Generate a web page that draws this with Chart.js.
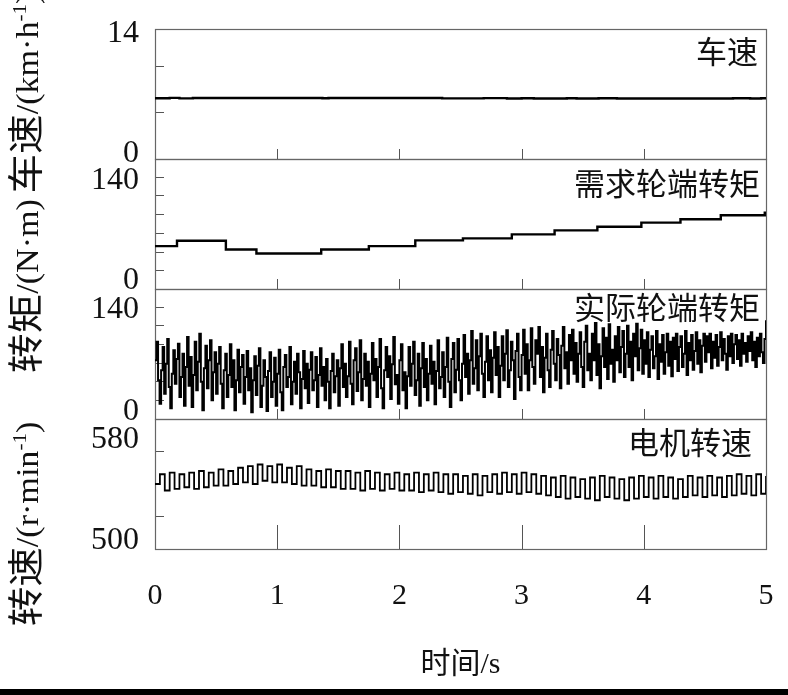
<!DOCTYPE html>
<html><head><meta charset="utf-8">
<script src="https://cdn.jsdelivr.net/npm/chart.js@4.4.1/dist/chart.umd.min.js"></script>
<style>html,body{margin:0;padding:0;background:#fff;overflow:hidden}#wrap{position:relative;width:788px;height:695px}</style>
</head><body><div id="wrap"><canvas id="c" width="788" height="695"></canvas></div>
<script>
// ---------- data ----------
const timeTicks = [0, 1, 2, 3, 4, 5];

// 车速 (km/h), stepped
const speedTimes  = [0, 0.12, 0.2, 0.31, 1.37, 1.42, 2.35, 2.69, 2.88, 3.0, 3.1, 3.37, 3.45, 3.63, 3.78, 4.73, 4.87, 4.96, 5.0];
const speedValues = [6.54, 6.58, 6.53, 6.57, 6.54, 6.57, 6.53, 6.56, 6.51, 6.55, 6.51, 6.55, 6.51, 6.55, 6.51, 6.55, 6.51, 6.55, 6.55];

// 需求轮端转矩 (N·m), stepped
const demandTimes  = [0, 0.18, 0.58, 0.83, 1.36, 1.75, 2.13, 2.52, 2.92, 3.27, 3.62, 3.98, 4.30, 4.63, 4.99, 5.0];
const demandValues = [37, 45, 32, 26, 32, 37, 45.5, 48.5, 54.5, 60.5, 66, 72, 77, 83, 87, 87];

// 实际轮端转矩 (N·m), sampled every 0.0125 s
const torqueSampleStep = 0.0125;
const actualTorque = [
  60, 88, 30, -5, 45, 80, 10, 55, 92, 20, -12, 40, 75, 25, 62, 85, 5, 35, 70, -8,
  50, 95, 22, 65, -10, 38, 88, 15, 58, 100, 28, -15, 48, 82, 18, 60, 90, 0, 42, 72,
  10, 55, 80, 25, -12, 45, 70, 5, 38, 84, 20, 60, -15, 30, 76, 12, 50, 68, -5, 35,
  74, 15, 48, -18, 30, 66, 8, 52, 78, -10, 22, 60, 35, -16, 44, 72, 5, 28, 64, -8,
  40, 76, 12, -15, 50, 68, 20, 35, 80, -6, 28, 58, 10, 70, 42, -12, 32, 74, 18, 55,
  -4, 46, 72, 15, 30, 65, -10, 38, 78, 22, 50, 0, 62, 28, -12, 44, 70, 12, 36, 60,
  -8, 48, 84, 20, 55, 5, 36, 88, 25, -6, 60, 78, 14, 42, 90, 0, 32, 70, 22, 58,
  -10, 40, 86, 30, 62, 5, 50, 92, 18, -12, 45, 80, 35, 66, 2, 54, 95, 24, 38, -5,
  60, 84, 15, 42, -12, 36, 80, 22, 55, 88, 8, 30, 70, -8, 48, 86, 20, 62, 0, 40,
  82, 25, 58, -6, 44, 90, 18, 35, 72, 5, 50, 94, 28, -10, 62, 86, 12, 46, 92, 30,
  0, 55, 98, 35, 70, 10, 60, 104, 25, 48, 90, 15, 66, 100, 40, 5, 58, 96, 30, 75,
  12, 64, 102, 38, 80, 5, 52, 96, 30, 70, 105, 20, 45, 88, 60, 2, 74, 100, 35, 15,
  68, 106, 40, 84, 15, 60, 108, 50, 25, 90, 70, 110, 35, 80, 12, 64, 100, 45, 20, 76,
  104, 55, 30, 92, 68, 18, 82, 110, 48, 72, 25, 98, 60, 106, 40, 86, 28, 70, 102, 50,
  20, 88, 112, 45, 70, 30, 100, 60, 116, 38, 84, 18, 66, 108, 50, 94, 32, 114, 55, 76,
  28, 96, 60, 110, 42, 80, 104, 35, 70, 112, 50, 88, 30, 100, 66, 115, 45, 78, 106, 40,
  90, 55, 102, 35, 76, 96, 48, 66, 104, 32, 84, 58, 98, 40, 72, 100, 52, 88, 36, 94,
  62, 100, 44, 80, 96, 50, 70, 104, 38, 86, 60, 98, 46, 74, 102, 55, 90, 42, 82, 100,
  58, 96, 72, 100, 48, 88, 64, 98, 52, 80, 102, 60, 92, 70, 46, 96, 66, 100, 56, 84,
  98, 62, 90, 52, 100, 70, 86, 58, 96, 74, 102, 60, 88, 50, 94, 66, 100, 72, 56, 92,
  120
];

// 电机转速 (r/min), sampled every 0.04 s
const motorSampleStep = 0.04;
const motorSpeed = [
  540, 546, 536, 547, 537, 546, 538, 547, 537, 548, 538, 547, 539,
  549, 539, 548, 540, 550, 541, 551, 540, 552, 542, 551, 541,
  552, 541, 550, 540, 551, 539, 549, 539, 548, 538, 549, 538, 548,
  537, 548, 537, 547, 536, 548, 537, 547, 536, 546, 537, 547, 536,
  546, 536, 547, 535, 546, 536, 547, 535, 546, 534, 546, 535,
  545, 534, 546, 533, 545, 535, 546, 534, 547, 535, 546, 534, 547,
  535, 546, 534, 545, 533, 544, 532, 545, 531, 544, 532, 543,
  531, 544, 530, 545, 532, 544, 531, 543, 530, 544, 531, 545, 532,
  544, 531, 545, 532, 544, 531, 543, 532, 545, 533, 544, 532,
  545, 533, 544, 532, 545, 533, 546, 534, 545, 533, 546, 534, 545
];

// axis tick values and labels
const speedTicks  = [0, 5, 10, 14];
const torqueTicks = [0, 28, 56, 84, 112, 140];
const motorTicks  = [500, 520, 560, 580];
const speedTickLabels  = [14, 0];
const torqueTickLabels = [140, 0];
const motorTickLabels  = [580, 500];
const panelTitles = ['车速', '需求轮端转矩', '实际轮端转矩', '电机转速'];
const xTitle = '时间/s';

// ---------- chart ----------
const SERIF = '"Liberation Serif", "Noto Sans CJK SC", serif';
const CJK = '"Noto Sans CJK SC", sans-serif';

function yScale(min, max, tickVals) {
  return {
    type: 'linear', position: 'left', stack: 'panels', stackWeight: 1,
    min: min, max: max,
    afterBuildTicks: s => { s.ticks = tickVals.map(v => ({ value: v })); },
    afterFit: s => { s.width = 155; s.paddingTop = 0; s.paddingBottom = 0; },
    ticks: { display: false },
    grid: { drawOnChartArea: false, drawTicks: true, tickLength: -9, color: '#555', lineWidth: 1 },
    border: { display: false }
  };
}

const panels = [
  { id: 'ySpeed',  labels: speedTickLabels,  dy: [2, -8],  title: panelTitles[0], tdy: 22,   tdx: -8,  tick: 10 },
  { id: 'yDemand', labels: torqueTickLabels, dy: [1, 8],   title: panelTitles[1], tdy: 24,   tdx: -6,  tick: 10 },
  { id: 'yActual', labels: torqueTickLabels, dy: [0, 9],   title: panelTitles[2], tdy: 18.5, tdx: -6,  tick: 10 },
  { id: 'yMotor',  labels: motorTickLabels,  dy: [18, -11],title: panelTitles[3], tdy: 23.5, tdx: -14, tick: 24 }
];

// rotated rich text: parts {t, cjk, sup}
function drawVertical(ctx, parts, cx, cy) {
  const latin = 31, cjk = 36, stretch = 1.1;
  const fontOf = p => p.cjk ? cjk + 'px ' + CJK : (p.sup ? latin * 0.62 : latin) + 'px ' + SERIF;
  ctx.save();
  ctx.translate(cx, cy);
  ctx.rotate(-Math.PI / 2);
  ctx.scale(stretch, 1);
  let total = 0;
  parts.forEach(p => { ctx.font = fontOf(p); p.w = ctx.measureText(p.t).width; total += p.w; });
  let x = -total / 2;
  const base = latin * 0.36;
  ctx.textAlign = 'left';
  ctx.textBaseline = 'alphabetic';
  ctx.fillStyle = '#111';
  parts.forEach(p => {
    ctx.font = fontOf(p);
    ctx.fillText(p.t, x, p.sup ? base - latin * 0.38 : (p.cjk ? base + 1 : base));
    x += p.w;
  });
  ctx.restore();
}

const decor = {
  id: 'decor',
  beforeDatasetsDraw(chart) {
    const ctx = chart.ctx, area = chart.chartArea, xs = chart.scales.x;
    ctx.save();
    panels.forEach(p => {
      const s = chart.scales[p.id];
      ctx.strokeStyle = '#666';
      ctx.lineWidth = 1.2;
      ctx.strokeRect(Math.round(area.left) + 0.5, Math.round(s.top) + 0.5, Math.round(area.right - area.left), Math.round(s.bottom - s.top));
      ctx.beginPath();
      timeTicks.slice(1, -1).forEach(t => {
        const px = Math.round(xs.getPixelForValue(t)) + 0.5;
        ctx.moveTo(px, s.bottom);
        ctx.lineTo(px, s.bottom - p.tick);
      });
      ctx.strokeStyle = '#555';
      ctx.lineWidth = 1;
      ctx.stroke();
    });
    ctx.restore();
  },
  afterDraw(chart) {
    const ctx = chart.ctx, area = chart.chartArea;
    ctx.save();
    ctx.fillStyle = '#111';
    ctx.textAlign = 'right';
    panels.forEach(p => {
      const s = chart.scales[p.id];
      // y tick labels
      ctx.font = '32px ' + SERIF;
      ctx.textBaseline = 'alphabetic';
      p.labels.forEach((v, i) => {
        const y = s.getPixelForValue(v) + p.dy[i] + 32 * 0.33;
        ctx.fillText(String(v), 139, y);
      });
      // panel titles
      ctx.font = '31px ' + CJK;
      ctx.textBaseline = 'middle';
      ctx.fillText(p.title, area.right + p.tdx, s.top + p.tdy);
    });
    // rotated axis titles
    drawVertical(ctx, [{ t: '车速', cjk: true }, { t: '/(km·h' }, { t: '-1', sup: true }, { t: ')' }], 27, 93);
    drawVertical(ctx, [{ t: '转矩', cjk: true }, { t: '/(N·m)' }], 27, 286);
    drawVertical(ctx, [{ t: '转速', cjk: true }, { t: '/(r·min' }, { t: '-1', sup: true }, { t: ')' }], 27, 524);
    // bottom rule
    ctx.fillStyle = '#000';
    ctx.fillRect(0, 689, 788, 6);
    ctx.restore();
  }
};

const lineStyle = { borderColor: '#000', pointRadius: 0, fill: false, xAxisID: 'x', stepped: 'before' };

new Chart(document.getElementById('c'), {
  type: 'line',
  data: {
    datasets: [
      Object.assign({ label: panelTitles[0], yAxisID: 'ySpeed', borderWidth: 2.4,
        data: speedTimes.map((t, i) => ({ x: t, y: speedValues[i] })) }, lineStyle),
      Object.assign({ label: panelTitles[1], yAxisID: 'yDemand', borderWidth: 2.4,
        data: demandTimes.map((t, i) => ({ x: t, y: demandValues[i] })) }, lineStyle),
      Object.assign({ label: panelTitles[2], yAxisID: 'yActual', borderWidth: 2,
        data: actualTorque.map((v, i) => ({ x: i * torqueSampleStep, y: v })) }, lineStyle),
      Object.assign({ label: panelTitles[3], yAxisID: 'yMotor', borderWidth: 1.8,
        data: motorSpeed.map((v, i) => ({ x: i * motorSampleStep, y: v })) }, lineStyle)
    ]
  },
  options: {
    responsive: false,
    animation: false,
    devicePixelRatio: 1,
    layout: { padding: { left: 0, right: 22, top: 29, bottom: 0 } },
    plugins: { legend: { display: false }, tooltip: { enabled: false } },
    scales: {
      x: {
        type: 'linear', position: 'bottom', min: 0, max: 5,
        afterBuildTicks: s => { s.ticks = timeTicks.map(v => ({ value: v })); },
        afterFit: s => { s.height = 146; s.paddingLeft = 0; s.paddingRight = 0; },
        ticks: { color: '#111', font: { family: SERIF, size: 30 }, padding: 29, callback: v => String(v) },
        grid: { display: false, drawTicks: false },
        border: { display: false },
        title: { display: true, text: xTitle, color: '#111', font: { family: SERIF, size: 30 }, padding: { top: 0, bottom: 12 } }
      },
      // stacked panels: first listed is placed at the bottom
      yMotor: yScale(500, 580, motorTicks),
      yActual: yScale(-28, 167, torqueTicks),
      yDemand: yScale(-27, 167, torqueTicks),
      ySpeed: yScale(0, 14, speedTicks)
    }
  },
  plugins: [decor]
});
</script></body></html>
